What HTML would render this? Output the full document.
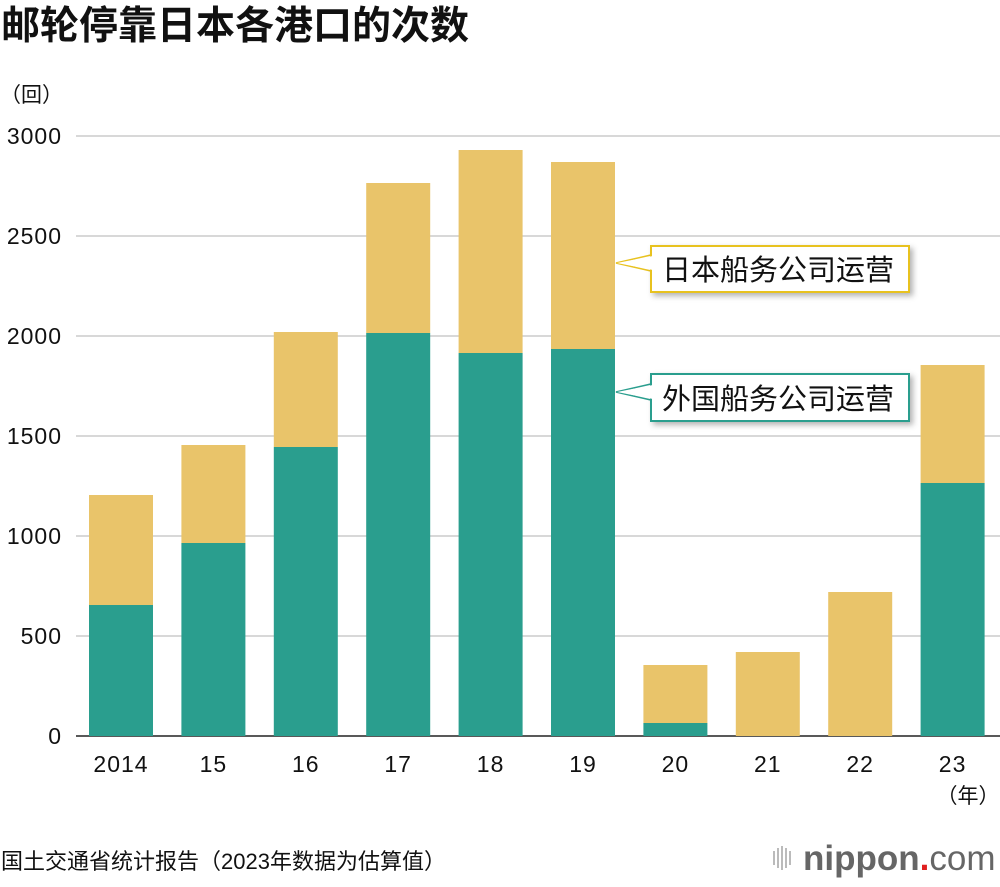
<!DOCTYPE html>
<html><head><meta charset="utf-8"><style>
body{margin:0;background:#fff;}
svg text{font-family:"Liberation Sans","Noto Sans CJK SC",sans-serif;}
</style></head><body>
<svg id="chart" width="1000" height="882" viewBox="0 0 1000 882" xmlns="http://www.w3.org/2000/svg">
<text x="1" y="39" font-size="39" font-weight="bold" fill="#111">邮轮停靠日本各港口的次数</text>
<text x="0" y="102" font-size="21" fill="#111">（回）</text>
<g id="grid"></g>
<g id="bars"></g>
<g id="xlabels"></g>
<text x="968" y="803" font-size="21" fill="#111" text-anchor="middle">（年）</text>
<g>
<polygon points="616,263 651,255 651,271" fill="#fff" stroke="#e8c21f" stroke-width="1.5"/>
<rect x="651" y="246" width="258" height="46" fill="#fff" stroke="#e8c21f" stroke-width="2" style="filter:drop-shadow(3px 3px 3px rgba(0,0,0,0.3))"/>
<polygon points="617,263 653,256 653,270" fill="#fff"/>
<text x="778" y="280" font-size="29" fill="#111" text-anchor="middle">日本船务公司运营</text>
</g>
<g>
<polygon points="616,392 651,384 651,400" fill="#fff" stroke="#2a9e8e" stroke-width="1.5"/>
<rect x="651" y="374" width="258" height="47" fill="#fff" stroke="#2a9e8e" stroke-width="2" style="filter:drop-shadow(3px 3px 3px rgba(0,0,0,0.3))"/>
<polygon points="617,392 653,385 653,399" fill="#fff"/>
<text x="778" y="409" font-size="29" fill="#111" text-anchor="middle">外国船务公司运营</text>
</g>
<text x="1" y="869" font-size="22" fill="#111">国土交通省统计报告（2023年数据为估算值）</text>
<g>
<g fill="#bbb"><rect x="773" y="851" width="2" height="14"/><rect x="777" y="848" width="2" height="20"/><rect x="781" y="846" width="2" height="24"/><rect x="785" y="848" width="2" height="20"/><rect x="789" y="851" width="2" height="14"/></g>
<text x="803" y="870" font-size="35" fill="#666" font-weight="bold">nippon<tspan fill="#e02020">.</tspan><tspan font-weight="normal">com</tspan></text>
</g>
</svg>
<script>
const categories=["2014","15","16","17","18","19","20","21","22","23"];
const foreignValues=[655,965,1445,2015,1915,1935,65,0,0,1265];
const japanValues=[550,490,575,750,1015,935,290,420,720,590];
const yTicks=[0,500,1000,1500,2000,2500,3000];
const NS="http://www.w3.org/2000/svg";
const y=v=>736-v*0.2;
const x=i=>121+i*92.4;
const bw=64;
function mk(tag,attrs,parent){const e=document.createElementNS(NS,tag);for(const k in attrs)e.setAttribute(k,attrs[k]);parent.appendChild(e);return e;}
const grid=document.getElementById('grid'),bars=document.getElementById('bars'),xl=document.getElementById('xlabels');
yTicks.forEach(t=>{
  const l=mk('line',{x1:76,x2:1000,y1:y(t),y2:y(t),stroke:t===0?'#222':'#ccc','stroke-width':1.5},grid);
  
  
  const tx=mk('text',{x:62,y:y(t)+8,'font-size':23,'text-anchor':'end',fill:'#111','letter-spacing':1},grid);
  tx.textContent=t;
  
  
});
categories.forEach((c,i)=>{
  const f=foreignValues[i],j=japanValues[i];
  const r1=mk('rect',{x:x(i)-bw/2,y:y(f),width:bw,height:f*0.2,fill:'#2a9e8e'},bars);
  
  
  const r2=mk('rect',{x:x(i)-bw/2,y:y(f+j),width:bw,height:j*0.2,fill:'#e9c46a'},bars);
  
  
  const t=mk('text',{x:x(i),y:772,'font-size':23,'text-anchor':'middle',fill:'#111','letter-spacing':1},xl);
  t.textContent=c;
  
  
});
</script>
</body></html>
